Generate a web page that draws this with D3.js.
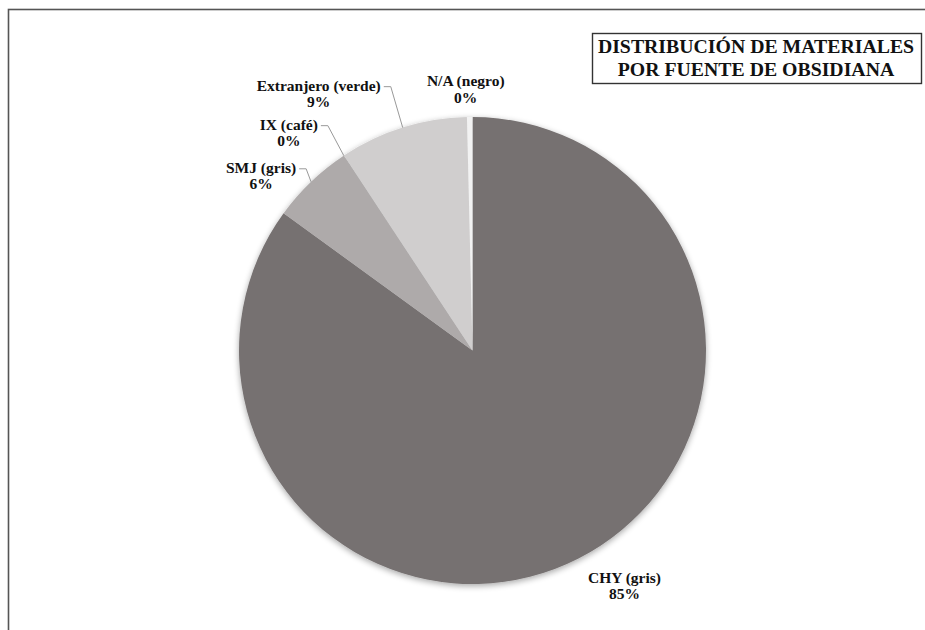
<!DOCTYPE html>
<html>
<head>
<meta charset="utf-8">
<script src="https://cdn.jsdelivr.net/npm/d3@7"></script>
<style>
  body { margin: 0; background: #fff; }
</style>
</head>
<body>
<svg width="925" height="630"></svg>
<script>
// data (percent of material per obsidian source)
var categories = ["CHY (gris)", "SMJ (gris)", "IX (café)", "Extranjero (verde)", "N/A (negro)"];
var values = [85.0, 5.7, 0.02, 8.9, 0.38];
var colors = ["#767171", "#aeaaaa", "#9a9696", "#d0cece", "#f2f2f2"];
var titleLines = ["DISTRIBUCIÓN DE MATERIALES", "POR FUENTE DE OBSIDIANA"];

// label nudges from the slice's outer mid point (layout only)
var labelOffset = [[46, 27], [-50, -6], [-55, -23], [-84, -34], [-4, -28]];
var hasLeader = [false, true, true, true, false];

var serif = "'Liberation Serif', 'Times New Roman', 'DejaVu Serif', serif";

var svg = d3.select("svg");
var cx = 472.5, cy = 350.5, radius = 233.5;

// outer frame
svg.append("rect")
    .attr("x", 8.5).attr("y", 9.5)
    .attr("width", 940).attr("height", 640)
    .attr("fill", "none")
    .attr("stroke", "#555")
    .attr("stroke-width", 1.6);

var defs = svg.append("defs");
var f = defs.append("filter").attr("id", "shadow")
    .attr("x", "-10%").attr("y", "-10%").attr("width", "120%").attr("height", "120%");
f.append("feGaussianBlur").attr("in", "SourceAlpha").attr("stdDeviation", 3);
f.append("feOffset").attr("dx", 0).attr("dy", 2).attr("result", "b");
f.append("feComponentTransfer").append("feFuncA").attr("type", "linear").attr("slope", 0.35);
var fm = f.append("feMerge");
fm.append("feMergeNode");
fm.append("feMergeNode").attr("in", "SourceGraphic");

var data = categories.map(function(c, i) {
    return {name: c, value: values[i], color: colors[i], i: i};
});

var pie = d3.pie()
    .sort(null)
    .value(function(d) { return d.value; });
var arcs = pie(data);
var total = d3.sum(values);

var arc = d3.arc().innerRadius(0).outerRadius(radius);

var g = svg.append("g")
    .attr("transform", "translate(" + cx + "," + cy + ")");

g.append("g")
    .attr("filter", "url(#shadow)")
    .selectAll("path")
    .data(arcs)
    .enter().append("path")
    .attr("d", arc)
    .attr("fill", function(d) { return d.data.color; });

function edgePoint(d) {
    var a = (d.startAngle + d.endAngle) / 2;
    return [radius * Math.sin(a), -radius * Math.cos(a)];
}

var fmt = d3.format(".0f");
var lineH = 16.5;

var labels = g.selectAll(".lbl")
    .data(arcs)
    .enter().append("g")
    .attr("class", "lbl");

labels.each(function(d) {
    var p = edgePoint(d);
    var off = labelOffset[d.data.i];
    var lx = p[0] + off[0], ly = p[1] + off[1];
    var sel = d3.select(this);
    var t1 = sel.append("text")
        .attr("x", lx).attr("y", ly - 3)
        .attr("text-anchor", "middle")
        .attr("font-family", serif)
        .attr("font-weight", "bold")
        .attr("font-size", 15.5)
        .attr("fill", "#111")
        .text(d.data.name);
    sel.append("text")
        .attr("x", lx).attr("y", ly - 3 + lineH)
        .attr("text-anchor", "middle")
        .attr("font-family", serif)
        .attr("font-weight", "bold")
        .attr("font-size", 15.5)
        .attr("fill", "#111")
        .text(fmt(d.data.value / total * 100) + "%");
    if (hasLeader[d.data.i]) {
        var w = t1.node().getComputedTextLength();
        var sx = lx + w / 2 + 3, sy = ly - 7;
        sel.insert("polyline", "text")
            .attr("points", [[sx, sy], [sx + 7, sy], p].map(function(q) { return q.join(","); }).join(" "))
            .attr("fill", "none")
            .attr("stroke", "#999")
            .attr("stroke-width", 1);
    }
});

// title box
var tb = svg.append("g");
tb.append("rect")
    .attr("x", 592.5).attr("y", 33.5)
    .attr("width", 329).attr("height", 50)
    .attr("fill", "#fff")
    .attr("stroke", "#333")
    .attr("stroke-width", 1.4);
tb.selectAll("text")
    .data(titleLines)
    .enter().append("text")
    .attr("x", 756)
    .attr("y", function(d, i) { return 52.5 + i * 23; })
    .attr("text-anchor", "middle")
    .attr("font-family", serif)
    .attr("font-weight", "bold")
    .attr("font-size", 19.8)
    .attr("fill", "#111")
    .text(function(d) { return d; });
</script>
</body>
</html>
